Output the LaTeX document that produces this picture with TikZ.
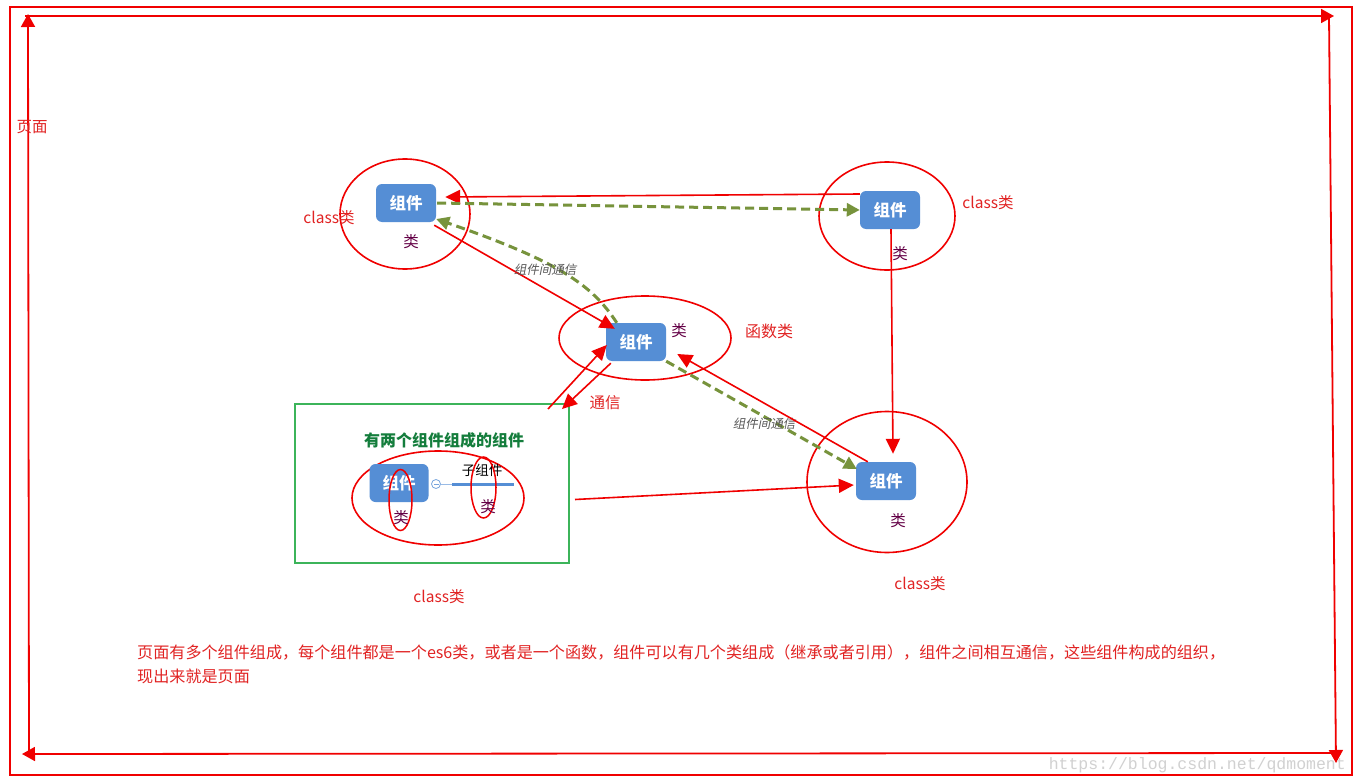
\documentclass[tikz,border=0pt]{standalone}
\usepackage{fontspec}
\setmainfont{Noto Sans CJK SC}
\newfontfamily\cjkit[FakeSlant=0.2]{Noto Sans CJK SC}
\newfontfamily\wmfont{Liberation Mono}
\usetikzlibrary{arrows.meta,shapes.geometric,calc}
\definecolor{ared}{RGB}{240,0,0}
\definecolor{tred}{RGB}{225,35,35}
\definecolor{boxblue}{RGB}{85,142,213}
\definecolor{dgreen}{RGB}{119,147,60}
\definecolor{gbox}{RGB}{60,180,90}
\definecolor{gtitle}{RGB}{20,125,60}
\definecolor{lei}{RGB}{100,0,70}
\tikzset{
  redarr/.style={draw=ared, line width=1.6pt, -{Triangle[length=15pt,width=14pt]}},
  framearr/.style={draw=ared, line width=1.8pt, -{Triangle[length=13pt,width=14pt]}},
  grnarr/.style={draw=dgreen, line width=3pt, dash pattern=on 9pt off 5pt, -{Triangle[length=13pt,width=13pt]}},
  oval/.style={ellipse, draw=ared, line width=1.6pt, inner sep=0pt},
  compbox/.style={rectangle, rounded corners=6pt, fill=boxblue, text=white, font=\fontsize{16.5}{18}\selectfont\bfseries, minimum width=60pt, minimum height=38pt, inner sep=0pt},
  leilbl/.style={text=lei, font=\fontsize{15.5}{17}\selectfont},
  redlbl/.style={text=tred, font=\fontsize{15.5}{17}\selectfont},
  commlbl/.style={text=black!65, font=\fontsize{12.5}{14}\selectfont\cjkit},
}
\begin{document}
\begin{tikzpicture}[x=1pt,y=-1pt]
\useasboundingbox (0,0) rectangle (1358,784);
\fill[white] (0,0) rectangle (1358,784);
% outer frame
\node[draw=ared, line width=1.6pt, minimum width=1342pt, minimum height=768pt, inner sep=0pt] (frame) at (681,391) {};
% frame arrows
\coordinate (tl) at (25,16);
\coordinate (tr) at (1334,16);
\coordinate (trs) at (1329,16);
\coordinate (br) at (1336,763);
\coordinate (brs) at (1337,753);
\coordinate (bl) at (22,754);
\coordinate (bls) at (29,757);
\coordinate (tlt) at (28,14);
\draw[framearr] (tl) -- (tr);
\draw[framearr] (trs) -- (br);
\draw[framearr] (brs) -- (bl);
\draw[framearr] (bls) -- (tlt);
\node[redlbl] (page) at (32,127) {页面};

% component 1 (top-left)
\node[oval, minimum width=130pt, minimum height=110pt] (e1) at (405,214) {};
\node[compbox] (b1) at (406,203) {组件};
\node[leilbl] (l1) at (411,242) {类};
\node[redlbl] (c1) at (329,218) {class类};

% component 2 (top-right)
\node[oval, minimum width=136pt, minimum height=108pt] (e2) at (887,216) {};
\node[compbox] (b2) at (890,210) {组件};
\node[leilbl] (l2) at (900,254) {类};
\node[redlbl] (c2) at (988,203) {class类};

% component 3 (middle, function)
\node[oval, minimum width=172pt, minimum height=84pt] (e3) at (645,338) {};
\node[compbox] (b3) at (636,342) {组件};
\node[leilbl] (l3) at (679,331) {类};
\node[redlbl, font=\fontsize{16}{18}\selectfont] (c3) at (769,331) {函数类};

% component 4 (bottom-right)
\node[oval, minimum width=160pt, minimum height=141pt] (e4) at (887,482) {};
\node[compbox] (b4) at (886,481) {组件};
\node[leilbl] (l4) at (898,521) {类};
\node[redlbl] (c4) at (920,584) {class类};

% composite component (green box)
\node[draw=gbox, line width=2pt, minimum width=274pt, minimum height=159pt, inner sep=0pt] (gb) at (432,483.5) {};
\node[text=gtitle, font=\fontsize{16}{18}\selectfont\bfseries] (gt) at (444,440) {有两个组件组成的组件};
\node[oval, minimum width=172pt, minimum height=94pt] (e5) at (438,498) {};
\node[compbox, minimum width=59pt] (b5) at (399,483) {组件};
\node[circle, draw=boxblue!80, line width=0.8pt, minimum size=9pt, inner sep=0pt, fill=white] (cm) at (436,484) {};
\draw[boxblue!80, line width=0.8pt] ($(cm.center)+(-2.5,0)$) -- ($(cm.center)+(2.5,0)$);
\coordinate (sbA) at (452,484);
\coordinate (sbB) at (514,484);
\draw[boxblue!60, line width=0.8pt] (cm.east) -- (sbA);
\draw[boxblue, line width=3pt] (sbA) -- (sbB);
\node[text=black, font=\fontsize{13.5}{15}\selectfont] (sub) at (482,470) {子组件};
\node[oval, line width=1.5pt, minimum width=23pt, minimum height=61pt] (e6) at (400.5,500) {};
\node[leilbl] (l5) at (401,518) {类};
\node[oval, line width=1.5pt, minimum width=25pt, minimum height=61pt] (e7) at (483.5,487.5) {};
\node[leilbl] (l6) at (488,507) {类};
\node[redlbl] (c5) at (439,597) {class类};

% connectors
\draw[redarr] ($(b2.west)+(0,-16)$) -- ($(b1.east)+(9,-6)$);
\draw[grnarr] ($(b1.east)+(1,0)$) -- ($(b2.west)+(0,0)$);
\draw[redarr] ($(b1.south east)+(-2,3)$) -- ($(b3.north west)+(9,6)$);
\draw[grnarr] ($(b3.north west)+(11,0)$) .. controls (592,285) and (560,262) .. ($(b1.east)+(0,16)$);
\node[commlbl] (cm1) at (545,270) {组件间通信};
\draw[redarr] (548,409) -- ($(b3.west)+(1,3)$);
\coordinate (comm2) at (562,409);
\draw[redarr] ($(b3.south west)+(5,2)$) -- (comm2);
\node[redlbl] (tx) at (605,403) {通信};
\draw[grnarr] ($(b3.south east)+(0,0)$) -- ($(b4.west)+(1,-12)$);
\node[commlbl] (cm2) at (764,424) {组件间通信};
\draw[redarr] ($(b4.north west)+(12,0)$) -- ($(b3.east)+(11,12)$);
\draw[redarr] ($(b2.south)+(1,0)$) -- ($(b4.north)+(7,-8)$);
\draw[redarr] ($(gb.east)+(5,16)$) -- ($(b4.west)+(-2,4)$);

% description
\node[anchor=west, text=tred, font=\fontsize{16.1}{18}\selectfont, inner sep=0pt] (d1) at (137,652) {页面有多个组件组成，每个组件都是一个es6类，或者是一个函数，组件可以有几个类组成（继承或者引用），组件之间相互通信，这些组件构成的组织，};
\node[anchor=west, text=tred, font=\fontsize{16.1}{18}\selectfont, inner sep=0pt] (d2) at (137,676) {现出来就是页面};

% watermark
\node[anchor=east, text=black!18, font=\fontsize{16.5}{18}\selectfont\wmfont, inner sep=0pt] (wm) at (1346,765) {https://blog.csdn.net/qdmoment};
\end{tikzpicture}
\end{document}
